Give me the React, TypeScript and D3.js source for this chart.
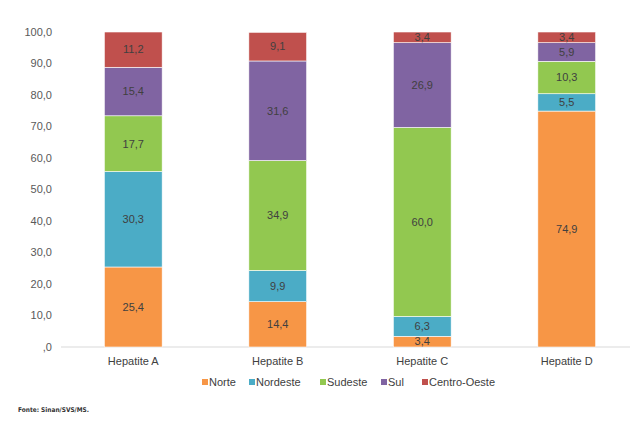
import React from "react";
import * as d3 from "d3";

const categories = ["Hepatite A", "Hepatite B", "Hepatite C", "Hepatite D"];
const regions = ["Norte", "Nordeste", "Sudeste", "Sul", "Centro-Oeste"];
const norte = [25.4, 14.4, 3.4, 74.9];
const nordeste = [30.3, 9.9, 6.3, 5.5];
const sudeste = [17.7, 34.9, 60.0, 10.3];
const sul = [15.4, 31.6, 26.9, 5.9];
const centroOeste = [11.2, 9.1, 3.4, 3.4];
const yTicks = [0, 10, 20, 30, 40, 50, 60, 70, 80, 90, 100];
const colors = ["#F79646", "#4BACC6", "#92C850", "#8064A2", "#C0504D"];

const W = 633, H = 423;
const fmt = (v: number) => (v === 0 ? ",0" : v.toFixed(1).replace(".", ","));

export default function App() {
  const series = [norte, nordeste, sudeste, sul, centroOeste];
  const rows = categories.map((c, i) => {
    const r: any = { cat: c };
    regions.forEach((k, j) => (r[k] = series[j][i]));
    return r;
  });
  const stacked = d3.stack<any>().keys(regions)(rows);
  const x = d3.scaleBand().domain(categories).range([61, 639]).paddingInner(0.6).paddingOuter(0.3);
  const y = d3.scaleLinear().domain([0, 100]).range([347, 32]);
  const font = "Liberation Sans, Arial, sans-serif";
  const legendX = [205, 252, 323, 384, 425];
  return (
    <svg width={W} height={H} style={{ position: "absolute", left: 0, top: 0, background: "#fff" }} fontFamily={font}>
      {yTicks.map((t) => (
        <text key={t} x={52} y={y(t)} dy="0.35em" textAnchor="end" fontSize={11} fill="#595959">
          {fmt(t)}
        </text>
      ))}
      <line x1={61} x2={630} y1={y(0)} y2={y(0)} stroke="#D9D9D9" strokeWidth={1} />
      {stacked.map((s, j) => (
        <g key={s.key}>
          {s.map((d, i) => (
            <g key={i}>
              <rect
                x={x(categories[i])}
                width={x.bandwidth()}
                y={y(d[1])}
                height={y(d[0]) - y(d[1])}
                fill={colors[j]}
                stroke="#fff"
                strokeWidth={0.6}
              />
              <text x={x(categories[i])! + x.bandwidth() / 2} y={y((d[0] + d[1]) / 2)} dy="0.35em" textAnchor="middle" fontSize={11} fill="#404040">
                {fmt(series[j][i])}
              </text>
            </g>
          ))}
        </g>
      ))}
      {categories.map((c) => (
        <text key={c} x={x(c)! + x.bandwidth() / 2} y={361} dy="0.35em" textAnchor="middle" fontSize={11} fill="#404040">
          {c}
        </text>
      ))}
      {regions.map((r, j) => (
        <g key={r}>
          <rect x={legendX[j] - 3} y={379} width={6} height={6} fill={colors[j]} />
          <text x={legendX[j] + 4} y={382} dy="0.35em" fontSize={11} fill="#404040">
            {r}
          </text>
        </g>
      ))}
      <text x={18} y={410} dy="0.35em" fontSize={6.5} fontWeight="bold" fill="#333" fontFamily="DejaVu Sans Condensed, DejaVu Sans, sans-serif">
        Fonte: Sinan/SVS/MS.
      </text>
    </svg>
  );
}
